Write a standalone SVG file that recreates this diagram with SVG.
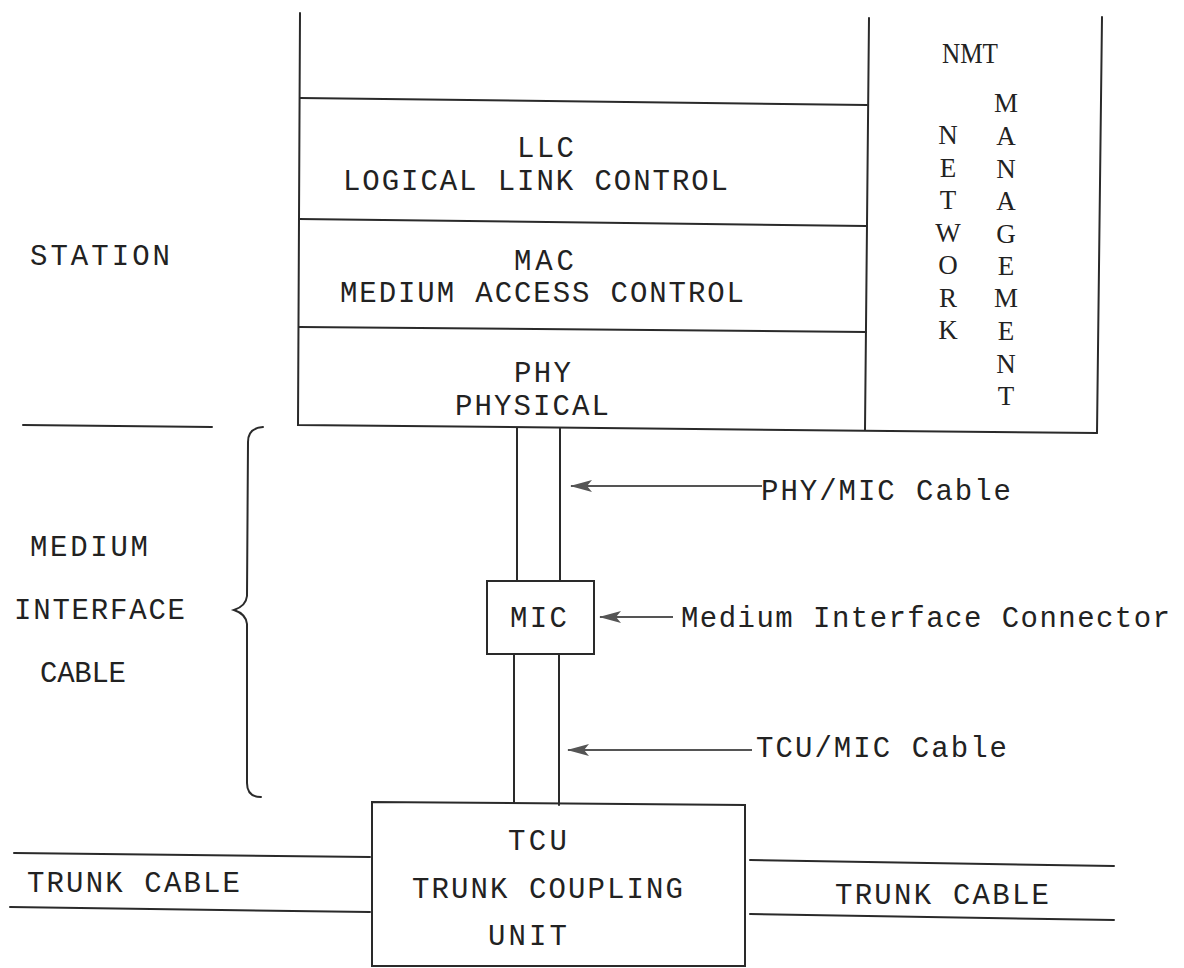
<svg xmlns="http://www.w3.org/2000/svg" width="1184" height="968" viewBox="0 0 1184 968">
<style>
.ln{stroke:#2a2a2a;stroke-width:2;fill:none;stroke-linecap:round}
.ar{stroke:#555;stroke-width:2.2;fill:none}
.t{font-family:"Liberation Mono",monospace;font-size:29px;fill:#222}
.s{font-family:"Liberation Serif",serif;font-size:27px;fill:#222;text-anchor:middle}
</style>
<defs>
<marker id="ah" viewBox="0 0 22 12" refX="21" refY="6" markerWidth="22" markerHeight="12" markerUnits="userSpaceOnUse" orient="auto">
<path d="M22,6 L0,0 L5,6 L0,12 Z" fill="#555"/>
</marker>
</defs>
<rect width="1184" height="968" fill="#fff"/>

<g id="station">
<path class="ln" d="M300,13 L298,425 L1097,433"/>
<path class="ln" d="M869,18 L865,430"/>
<path class="ln" d="M300,98 L867,105"/>
<path class="ln" d="M299,219 L866,226"/>
<path class="ln" d="M299,327 L866,332"/>
<text class="t" x="517" y="157" textLength="57" lengthAdjust="spacing">LLC</text>
<text class="t" x="343" y="190" textLength="385" lengthAdjust="spacing">LOGICAL LINK CONTROL</text>
<text class="t" x="514" y="270" textLength="60" lengthAdjust="spacing">MAC</text>
<text class="t" x="340" y="302" textLength="404" lengthAdjust="spacing">MEDIUM ACCESS CONTROL</text>
<text class="t" x="514" y="382" textLength="57" lengthAdjust="spacing">PHY</text>
<text class="t" x="455" y="415" textLength="154" lengthAdjust="spacing">PHYSICAL</text>
</g>

<g id="nmt">
<path class="ln" d="M1102,17 L1097,433"/>
<text class="t" x="942" y="63" style="font-family:'Liberation Serif',serif;font-size:30px" textLength="56" lengthAdjust="spacingAndGlyphs">NMT</text>
<text class="s" x="948" y="144">N</text>
<text class="s" x="948" y="177">E</text>
<text class="s" x="948" y="209">T</text>
<text class="s" x="948" y="242">W</text>
<text class="s" x="948" y="274">O</text>
<text class="s" x="948" y="307">R</text>
<text class="s" x="948" y="339">K</text>
<text class="s" x="1006" y="112">M</text>
<text class="s" x="1006" y="145">A</text>
<text class="s" x="1006" y="178">N</text>
<text class="s" x="1006" y="210">A</text>
<text class="s" x="1006" y="243">G</text>
<text class="s" x="1006" y="275">E</text>
<text class="s" x="1006" y="307">M</text>
<text class="s" x="1006" y="340">E</text>
<text class="s" x="1006" y="373">N</text>
<text class="s" x="1006" y="405">T</text>
</g>

<g id="station-label">
<text class="t" x="30" y="265" textLength="140" lengthAdjust="spacing">STATION</text>
<path class="ln" d="M23,425 L212,427"/>
</g>

<g id="mic-label">
<text class="t" x="30" y="556" textLength="118" lengthAdjust="spacing">MEDIUM</text>
<text class="t" x="14" y="619" textLength="171" lengthAdjust="spacing">INTERFACE</text>
<text class="t" x="40" y="682" textLength="86" lengthAdjust="spacing">CABLE</text>
<path class="ln" d="M263,427 Q248,428 248,442 L247,596 Q246,606 234,610 Q246,614 247,624 L247,783 Q247,797 261,797"/>
</g>

<g id="mic">
<rect class="ln" x="487" y="581" width="107" height="73"/>
<text class="t" x="510" y="627" textLength="57" lengthAdjust="spacing">MIC</text>
</g>

<g id="tcu">
<path class="ln" d="M372,966 L372,802 L745,805 L745,966 Z"/>
<text class="t" x="508" y="850" textLength="59" lengthAdjust="spacing">TCU</text>
<text class="t" x="412" y="898" textLength="271" lengthAdjust="spacing">TRUNK COUPLING</text>
<text class="t" x="488" y="945" textLength="79" lengthAdjust="spacing">UNIT</text>
</g>

<g id="trunk-left">
<path class="ln" d="M14,853 L370,857"/>
<path class="ln" d="M10,907 L370,912"/>
<text class="t" x="27" y="892" textLength="213" lengthAdjust="spacing">TRUNK CABLE</text>
</g>

<g id="trunk-right">
<path class="ln" d="M750,860 L1114,866"/>
<path class="ln" d="M750,914 L1114,920"/>
<text class="t" x="835" y="904" textLength="214" lengthAdjust="spacing">TRUNK CABLE</text>
</g>

<g id="connectors">
<path class="ln" d="M517,428 L517,581"/>
<path class="ln" d="M560,428 L560,581"/>
<path class="ln" d="M514,654 L514,803"/>
<path class="ln" d="M559,654 L559,805"/>
<path class="ar" d="M762,486 L571,486" marker-end="url(#ah)"/>
<path class="ar" d="M673,617 L600,617" marker-end="url(#ah)"/>
<path class="ar" d="M752,750 L568,750" marker-end="url(#ah)"/>
</g>

<g id="callouts">
<text class="t" x="761" y="500" textLength="250" lengthAdjust="spacing">PHY/MIC Cable</text>
<text class="t" x="681" y="627" textLength="489" lengthAdjust="spacing">Medium Interface Connector</text>
<text class="t" x="756" y="757" textLength="251" lengthAdjust="spacing">TCU/MIC Cable</text>
</g>
</svg>
